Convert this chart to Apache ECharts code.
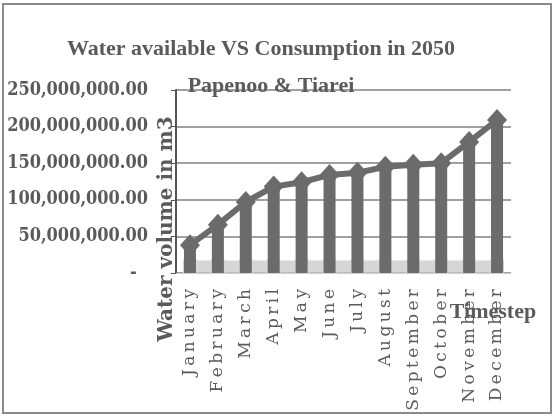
<!DOCTYPE html>
<html>
<head>
<meta charset="utf-8">
<script src="https://cdn.jsdelivr.net/npm/echarts@6/dist/echarts.min.js"></script>
<style>
  html, body { margin: 0; padding: 0; background: #fff; }
  #chart { width: 555px; height: 418px; }
</style>
</head>
<body>
<div id="chart"></div>
<script>
const months = ["January", "February", "March", "April", "May", "June", "July", "August", "September", "October", "November", "December"];
const available = [38e6, 66e6, 97e6, 118e6, 124e6, 134e6, 137e6, 145e6, 148e6, 150e6, 179e6, 209e6];
const consumption = [9e6, 9e6, 9e6, 9e6, 9e6, 9e6, 9e6, 9e6, 9e6, 9e6, 9e6, 9e6];
const yTicks = [0, 50e6, 100e6, 150e6, 200e6, 250e6];

const chart = echarts.init(document.getElementById("chart"));
const textColor = "#5a5a5a";
const serif = "'DejaVu Serif Condensed', 'DejaVu Serif', serif";

function fmt(v) {
    if (v === 0) return "-  ";
    return v.toLocaleString("en-US", {minimumFractionDigits: 2, maximumFractionDigits: 2});
}

// the scanned month labels are widely spaced
function spaced(s) {
    return s.split("").join("\u2009");
}

chart.setOption({
    animation: false,
    title: [
        {
            text: "Water available VS Consumption in 2050",
            left: 256,
            top: 33,
            textAlign: "center",
            textStyle: {fontFamily: "'Liberation Serif', serif", fontWeight: "bold", fontSize: 22, color: textColor}
        },
        {
            text: "Papenoo & Tiarei",
            left: 266,
            top: 70,
            textAlign: "center",
            textStyle: {fontFamily: "'Liberation Serif', serif", fontWeight: "bold", fontSize: 22, color: textColor}
        }
    ],
    grid: {left: 176, right: 44, top: 90, bottom: 145},
    xAxis: {
        type: "category",
        data: months,
        axisTick: {show: false},
        axisLine: {show: true, lineStyle: {color: "#cfcfcf", width: 1}},
        axisLabel: {
            rotate: 90,
            margin: 16,
            interval: 0,
            color: textColor,
            fontFamily: "'DejaVu Serif', serif",
            fontSize: 17,
            formatter: spaced
        }
    },
    yAxis: {
        type: "value",
        min: 0,
        max: yTicks[yTicks.length - 1],
        interval: 50e6,
        axisLine: {show: true, lineStyle: {color: "#555", width: 2}},
        axisTick: {show: true, length: 5, lineStyle: {color: "#555"}},
        splitLine: {lineStyle: {color: "#808080", width: 1.5}},
        axisLabel: {
            formatter: fmt,
            margin: 28,
            color: textColor,
            fontFamily: serif,
            fontWeight: "bold",
            fontSize: 18
        }
    },
    graphic: [
        {
            type: "rect",
            shape: {x: 3, y: 4, width: 548, height: 409},
            style: {fill: "none", stroke: "#8a8a8a", lineWidth: 2},
            silent: true
        },
        {
            type: "text",
            x: 167,
            y: 229,
            rotation: Math.PI / 2,
            style: {
                text: "Water volume in m3",
                align: "center",
                verticalAlign: "middle",
                fill: textColor,
                font: "bold 20px 'DejaVu Serif', serif"
            },
            z: 10
        },
        {
            type: "text",
            x: 493,
            y: 312,
            style: {
                text: "Timestep",
                align: "center",
                verticalAlign: "middle",
                fill: textColor,
                font: "bold 22px 'Liberation Serif', serif"
            },
            z: 10
        }
    ],
    series: [
        {
            name: "Consumption",
            type: "line",
            data: consumption,
            symbol: "rect",
            symbolSize: 14,
            lineStyle: {color: "#d6d6d6", width: 12},
            itemStyle: {color: "#d6d6d6"},
            z: 1
        },
        {
            name: "Water available",
            type: "bar",
            data: available,
            barWidth: 12,
            itemStyle: {color: "#6b6b6b"},
            z: 2
        },
        {
            name: "Water available line",
            type: "line",
            data: available,
            symbol: "diamond",
            symbolSize: [20, 22],
            lineStyle: {color: "#6b6b6b", width: 6},
            itemStyle: {color: "#6b6b6b"},
            z: 3
        }
    ]
});
</script>
</body>
</html>
